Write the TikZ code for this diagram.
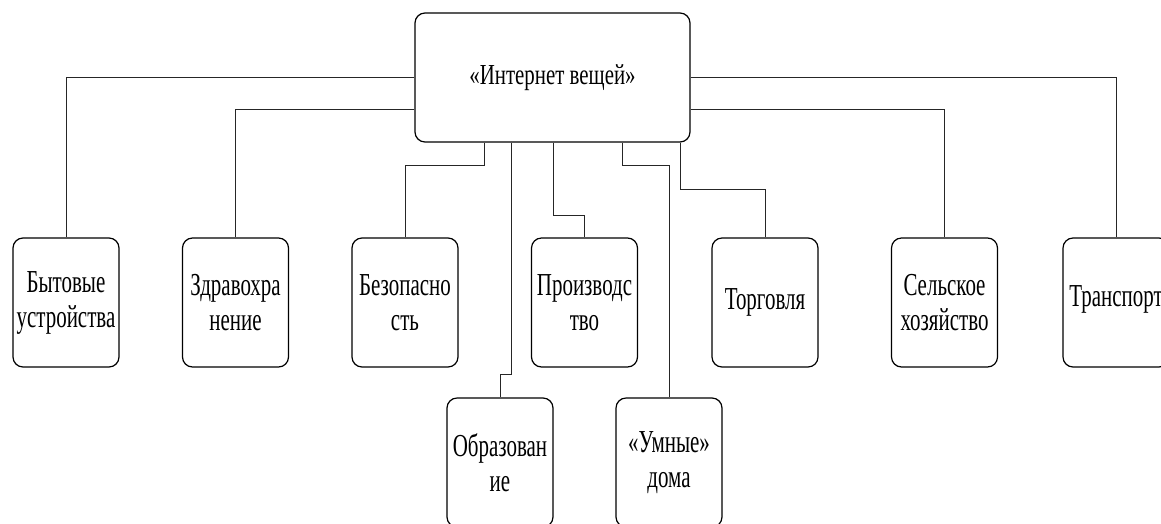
\documentclass[tikz,border=0pt]{standalone}
\usepackage{fontspec}
\setmainfont{Liberation Serif}
\newfontfamily\tnr[FakeStretch=0.72]{Liberation Serif}
\newfontfamily\tnrb[FakeStretch=0.655]{Liberation Serif}
\usetikzlibrary{calc}
\tikzset{
  box/.style={draw=black, line width=1.2pt, rounded corners=10pt, rectangle,
    minimum width=106pt, minimum height=129pt, inner sep=0pt, align=center,
    font=\tnrb\fontsize{32}{35}\selectfont},
  mainbox/.style={box, minimum width=275pt, minimum height=129pt,
    font=\tnr\fontsize{29}{35}\selectfont},
  link/.style={draw=black!85, line width=0.9pt}
}
\begin{document}
\begin{tikzpicture}[x=1pt,y=-1pt]
\clip (0,0) rectangle (1161,523);
\useasboundingbox (0,0) rectangle (1161,523);
\node[mainbox] (iot) at (552.5,77.5) {\raisebox{-3pt}{«Интернет вещей»}};
\node[box] (b1) at (66,302.5) {Бытовые\\устройства};
\node[box] (b2) at (235.5,302.5) {Здравохра\\нение};
\node[box] (b3) at (405,302.5) {Безопасно\\сть};
\node[box] (b4) at (584.5,302.5) {Производс\\тво};
\node[box] (b5) at (765,302.5) {Торговля};
\node[box] (b6) at (944.5,302.5) {Сельское\\хозяйство};
\node[box] (b7) at (1116,302.5) {\raisebox{13pt}{Транспорт}};
\node[box] (b8) at (500,462.5) {Образован\\ие};
\node[box] (b9) at (669,462.5) {«Умные»\\дома};
\coordinate (h2) at (0,109);
\draw[link] (iot.west) -| (b1.north);
\draw[link] (iot.west |- h2) -| (b2.north);
\draw[link] (iot.east) -| (b7.north);
\draw[link] (iot.east |- h2) -| (b6.north);
\draw[link] ([xshift=-68.5pt]iot.south) -- ++(0,23) -| (b3.north);
\draw[link] ([xshift=-41.5pt]iot.south) -- ++(0,232) -| (b8.north);
\draw[link] ([xshift=0.5pt]iot.south) -- ++(0,73) -| (b4.north);
\draw[link] ([xshift=69.5pt]iot.south) -- ++(0,23) -| (b9.north);
\draw[link] ([xshift=127.5pt]iot.south) -- ++(0,47) -| (b5.north);
\end{tikzpicture}
\end{document}
